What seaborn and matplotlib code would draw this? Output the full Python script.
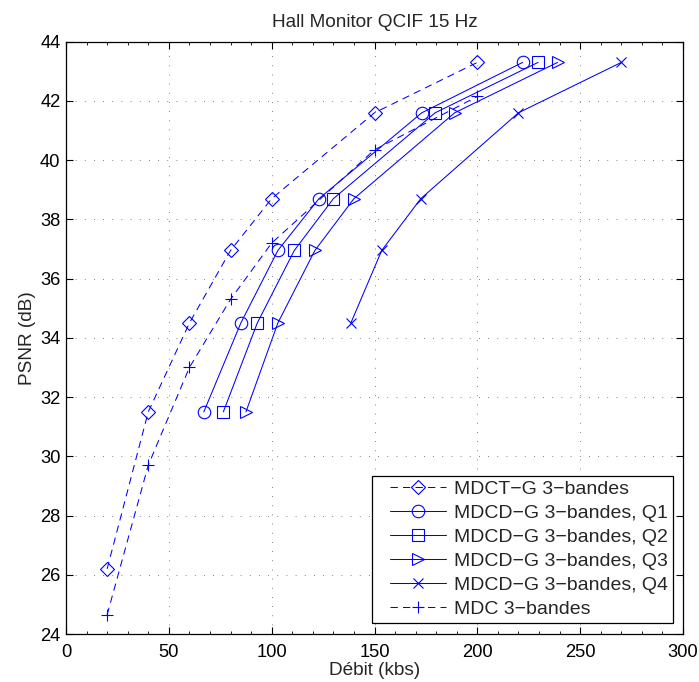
import matplotlib
matplotlib.use("Agg")
import matplotlib.pyplot as plt
from matplotlib.ticker import MultipleLocator
from matplotlib.lines import Line2D
from matplotlib.legend_handler import HandlerLine2D
import seaborn as sns
import pandas as pd

sns.set_theme(style="ticks")
plt.rcParams['font.family'] = ['Liberation Sans', 'DejaVu Sans']

# ---- data ----
mdct_x = [20, 40, 60, 80, 100, 150, 200]
mdct_y = [26.2, 31.5, 34.5, 36.95, 38.7, 41.6, 43.3]

q1_x = [67, 85, 103, 123, 173, 222]
q1_y = [31.5, 34.5, 36.95, 38.7, 41.6, 43.3]

q2_x = [76.5, 93, 111, 130, 179.5, 229.5]
q2_y = [31.5, 34.5, 36.95, 38.7, 41.6, 43.3]

q3_x = [87.5, 103, 121, 140, 189, 239]
q3_y = [31.5, 34.5, 36.95, 38.7, 41.6, 43.3]

q4_x = [138.5, 153.5, 172.5, 220, 270]
q4_y = [34.5, 36.95, 38.7, 41.6, 43.3]

mdc_x = [20, 40, 60, 80, 100, 150, 200]
mdc_y = [24.65, 29.7, 33.0, 35.3, 37.2, 40.35, 42.15]

labels = ["MDCT\u2212G 3\u2212bandes",
          "MDCD\u2212G 3\u2212bandes, Q1",
          "MDCD\u2212G 3\u2212bandes, Q2",
          "MDCD\u2212G 3\u2212bandes, Q3",
          "MDCD\u2212G 3\u2212bandes, Q4",
          "MDC 3\u2212bandes"]

title = "Hall Monitor QCIF 15 Hz"
xlabel = "Débit (kbs)"
ylabel = "PSNR (dB)"
xticks = [0, 50, 100, 150, 200, 250, 300]
yticks = [24, 26, 28, 30, 32, 34, 36, 38, 40, 42, 44]

# ---- figure ----
fig = plt.figure(figsize=(6.99, 6.82), dpi=100)
ax = fig.add_axes([66/699, 1-634/682, (683-66)/699, (634-41.7)/682])

dash = (0, (7, 5))
series = [
    (mdct_x, mdct_y, labels[0], 'D', dash, 7),
    (q1_x, q1_y, labels[1], 'o', '-', 9),
    (q2_x, q2_y, labels[2], 's', '-', 8),
    (q3_x, q3_y, labels[3], '>', '-', 8.5),
    (q4_x, q4_y, labels[4], 'x', '-', 7),
    (mdc_x, mdc_y, labels[5], '+', dash, 8),
]

blue = (0, 0, 1)
for xs, ys, lab, mk, ls, ms in series:
    df = pd.DataFrame({"x": xs, "y": ys})
    sns.lineplot(data=df, x="x", y="y", ax=ax, sort=False, color=blue,
                 marker=mk, markersize=ms, markerfacecolor='none',
                 markeredgecolor=blue, markeredgewidth=0.8,
                 linestyle=ls, linewidth=0.75, label=lab)

ax.set_xlim(0, 300)
ax.set_ylim(24, 44)
ax.set_xticks(xticks)
ax.set_yticks(yticks)
ax.xaxis.set_minor_locator(MultipleLocator(10))
ax.tick_params(which='both', direction='in', top=True, right=True,
               labelsize=13.2, colors='black')
ax.tick_params(axis='x', which='major', pad=7)
ax.tick_params(axis='y', which='major', pad=4)
ax.tick_params(which='major', length=5, width=0.8)
ax.tick_params(which='minor', length=2.5, width=0.6)
for s in ax.spines.values():
    s.set_visible(True)
    s.set_color('black')
    s.set_linewidth(0.9)

ax.grid(True, which='major', color='0.35', linestyle=(0, (1, 10)), linewidth=0.6)
ax.set_facecolor('white')

ax.set_title(title, fontsize=13.7, pad=10.5)
ax.set_xlabel(xlabel, fontsize=13.7, labelpad=1)
ax.set_ylabel(ylabel, fontsize=13.7, labelpad=3)

leg = ax.legend(loc='lower right', bbox_to_anchor=(0.984, 0.0186),
                fontsize=14, frameon=True, fancybox=False, framealpha=1,
                edgecolor='black', handlelength=3.6, handletextpad=0.4,
                borderpad=0.25, labelspacing=0.33, borderaxespad=0,
                handler_map={Line2D: HandlerLine2D(xpad=0.68)})
leg.get_frame().set_linewidth(0.9)

fig.savefig("out.png", dpi=100, facecolor='white')
